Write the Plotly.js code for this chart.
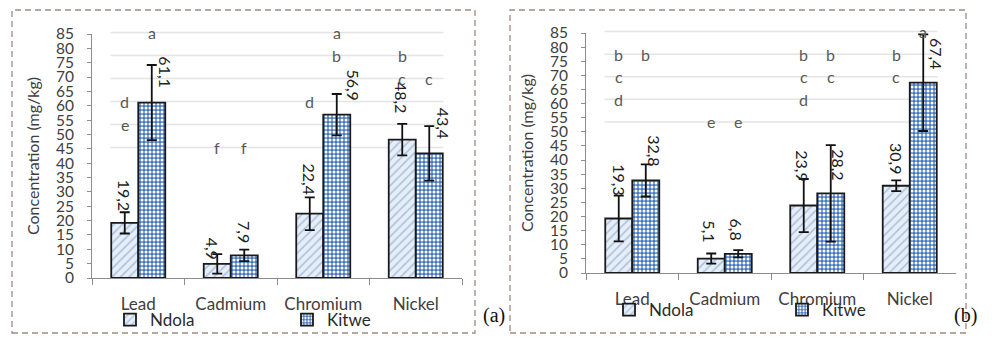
<!DOCTYPE html>
<html>
<head>
<meta charset="utf-8">
<script src="https://cdn.plot.ly/plotly-3.0.1.min.js"></script>
<style>
  html, body { margin: 0; padding: 0; background: #fff; }
  #chart { width: 998px; height: 342px; }
</style>
</head>
<body>
<div id="chart"></div>
<script>
// ---------------- DATA ----------------
const categories = ['Lead', 'Cadmium', 'Chromium', 'Nickel'];
const seriesNames = ['Ndola', 'Kitwe'];

// Panel (a)
const ndolaA = [19.2, 4.9, 22.4, 48.2];
const kitweA = [61.1, 7.9, 56.9, 43.4];
const ndolaErrA = [3.7, 3.4, 5.7, 5.5];
const kitweErrA = [13.1, 2.0, 7.2, 9.5];
const lettersNdolaA = ['de', 'f', 'd', 'bc'];
const lettersKitweA = ['a', 'f', 'ab', 'c'];

// Panel (b)
const ndolaB = [19.3, 5.1, 23.9, 30.9];
const kitweB = [32.8, 6.8, 28.2, 67.4];
const ndolaErrB = [8.1, 1.8, 9.4, 1.9];
const kitweErrB = [5.7, 1.3, 17.1, 17.1];
const lettersNdolaB = ['bcd', 'e', 'bcd', 'bc'];
const lettersKitweB = ['b', 'e', 'bc', 'a'];

// significance letter rows (value level of each letter)
const letterNames = ['a', 'b', 'c', 'd', 'e', 'f'];
const letterLevels = [85.5, 77.5, 69.5, 61.5, 53.5, 45.5];

const yTickVals = [0,5,10,15,20,25,30,35,40,45,50,55,60,65,70,75,80,85];
const yMax = 85;
const panelLabels = ['(a)', '(b)'];

// ---------------- STYLE ----------------
const W = 998, H = 342;
const px = x => x / W;
const py = y => 1 - y / H;
const FONT = 'Lato, "Open Sans", sans-serif';
const barHalfOffset = 13.5; // px from category centre to bar centre
// per-label nudges (px) for the rotated value labels: [Ndola[], Kitwe[]]
const labelDxA = [[0, -5, 0, 0], [14, 0, 17, 14]];
const labelDyA = [[10, 2, 17, 25], [13, 10, 12, 13]];
const labelDxB = [[1, -2, -1, 0], [8, -2, 7, 14]];
const labelDyB = [[21, 14, 22, 10], [12, 11, 11, 12]];

const ndolaMarker = {
  color: '#e3ebf5',
  line: { color: '#1a1a1a', width: 1.8 },
  pattern: { shape: '/', fgcolor: '#a9bfdc', bgcolor: '#e6eef8', size: 6, solidity: 0.25, fillmode: 'replace' }
};
const kitweMarker = {
  color: '#4f7fc0',
  line: { color: '#1a1a1a', width: 1.8 },
  pattern: { shape: '.', fgcolor: '#ffffff', bgcolor: '#4677bd', size: 4, solidity: 0.45, fillmode: 'replace' }
};
const errStyle = { type: 'data', color: '#111', thickness: 1.8, width: 5, visible: true };

function fmt(v) { return v.toFixed(1).replace('.', ','); }

function panel(idx, ndola, kitwe, ndErr, kwErr, ndLet, kwLet, dx, dy) {
  const xa = idx === 0 ? 'x' : 'x2';
  const ya = idx === 0 ? 'y' : 'y2';
  const lg = idx === 0 ? 'legend' : 'legend2';
  const traces = [
    { type: 'bar', name: seriesNames[0], x: categories, y: ndola, xaxis: xa, yaxis: ya, legend: lg,
      marker: ndolaMarker, error_y: Object.assign({ array: ndErr }, errStyle), hoverinfo: 'skip' },
    { type: 'bar', name: seriesNames[1], x: categories, y: kitwe, xaxis: xa, yaxis: ya, legend: lg,
      marker: kitweMarker, error_y: Object.assign({ array: kwErr }, errStyle), hoverinfo: 'skip' }
  ];
  const ann = [];
  const shapes = [];
  const series = [ndola, kitwe];
  const lets = [ndLet, kwLet];
  const usedLevels = new Set();
  for (let s = 0; s < 2; s++) {
    const off = s === 0 ? -barHalfOffset : barHalfOffset;
    categories.forEach((c, i) => {
      ann.push({ x: c, y: series[s][i], xref: xa, yref: ya, text: fmt(series[s][i]), showarrow: false,
        textangle: 90, xanchor: 'center', yanchor: 'bottom', xshift: off + dx[s][i], yshift: dy[s][i],
        font: { family: FONT, size: 16, color: '#1e1e1e' } });
      for (const ch of lets[s][i]) {
        const k = letterNames.indexOf(ch);
        usedLevels.add(k);
        ann.push({ x: c, y: letterLevels[k] / yMax, xref: xa, yref: ya + ' domain', text: ch, showarrow: false,
          xanchor: 'center', yanchor: 'middle', xshift: off,
          font: { family: FONT, size: 16, color: '#595959' } });
      }
    });
  }
  usedLevels.forEach(k => {
    shapes.push({ type: 'line', layer: 'below', xref: xa + ' domain', yref: ya + ' domain',
      x0: 0.05, x1: 0.95, y0: letterLevels[k] / yMax, y1: letterLevels[k] / yMax,
      line: { color: '#e4e4e4', width: 1.5 } });
  });
  return { traces, ann, shapes };
}

const pA = panel(0, ndolaA, kitweA, ndolaErrA, kitweErrA, lettersNdolaA, lettersKitweA, labelDxA, labelDyA);
const pB = panel(1, ndolaB, kitweB, ndolaErrB, kitweErrB, lettersNdolaB, lettersKitweB, labelDxB, labelDyB);

function xAxis(domain, anchor) {
  return { domain, anchor, type: 'category', range: [-0.5, 3.5], showline: true, linecolor: '#8c8c8c', linewidth: 1,
    ticks: 'outside', tickson: 'boundaries', ticklen: 6, tickcolor: '#8c8c8c', showgrid: false, zeroline: false,
    tickfont: { family: FONT, size: 17, color: '#404040' }, ticklabelstandoff: 11, fixedrange: true };
}
function yAxis(domain, anchor) {
  return { domain, anchor, range: [0, yMax], tickvals: yTickVals, showline: true, linecolor: '#8c8c8c', linewidth: 1,
    ticks: 'outside', ticklen: 4, tickcolor: '#8c8c8c', showgrid: false, zeroline: false,
    tickfont: { family: FONT, size: 15.5, color: '#404040' }, ticklabelstandoff: 10,
    title: { text: 'Concentration (mg/kg)', font: { family: FONT, size: 16, color: '#404040' }, standoff: 12 },
    fixedrange: true };
}

const borderLine = { color: '#9e8b82', width: 1.3, dash: '6px,4px' };
const frameShapes = [
  { type: 'rect', xref: 'paper', yref: 'paper', x0: px(12), x1: px(475), y0: py(333), y1: py(10), line: borderLine },
  { type: 'rect', xref: 'paper', yref: 'paper', x0: px(510), x1: px(966), y0: py(333), y1: py(10), line: borderLine }
];

const legendFont = { family: FONT, size: 17, color: '#2a2a2a' };
const layout = {
  width: W, height: H,
  margin: { l: 0, r: 0, t: 0, b: 0 },
  paper_bgcolor: '#ffffff', plot_bgcolor: 'rgba(0,0,0,0)',
  barmode: 'group', bargap: 0.416, bargroupgap: 0,
  showlegend: true,
  xaxis: xAxis([px(92), px(462)], 'y'),
  yaxis: yAxis([py(278), py(34)], 'x'),
  xaxis2: xAxis([px(586), px(956)], 'y2'),
  yaxis2: yAxis([py(273), py(33)], 'x2'),
  legend: { orientation: 'h', x: px(110), y: py(320), xanchor: 'left', yanchor: 'middle', entrywidth: 132,
    font: legendFont, bgcolor: 'rgba(0,0,0,0)', itemclick: false, itemdoubleclick: false },
  legend2: { orientation: 'h', x: px(609), y: py(310), xanchor: 'left', yanchor: 'middle', entrywidth: 128,
    font: legendFont, bgcolor: 'rgba(0,0,0,0)', itemclick: false, itemdoubleclick: false },
  shapes: frameShapes.concat(pA.shapes, pB.shapes),
  annotations: pA.ann.concat(pB.ann, [
    { xref: 'paper', yref: 'paper', x: px(494), y: py(329), text: panelLabels[0], showarrow: false,
      font: { family: '"Liberation Serif", "Times New Roman", serif', size: 20, color: '#111' } },
    { xref: 'paper', yref: 'paper', x: px(979), y: py(329), text: panelLabels[1], showarrow: false,
      font: { family: '"Liberation Serif", "Times New Roman", serif', size: 20, color: '#111' } }
  ])
};

Plotly.newPlot('chart', pA.traces.concat(pB.traces), layout, { staticPlot: true, displayModeBar: false });
</script>
</body>
</html>
